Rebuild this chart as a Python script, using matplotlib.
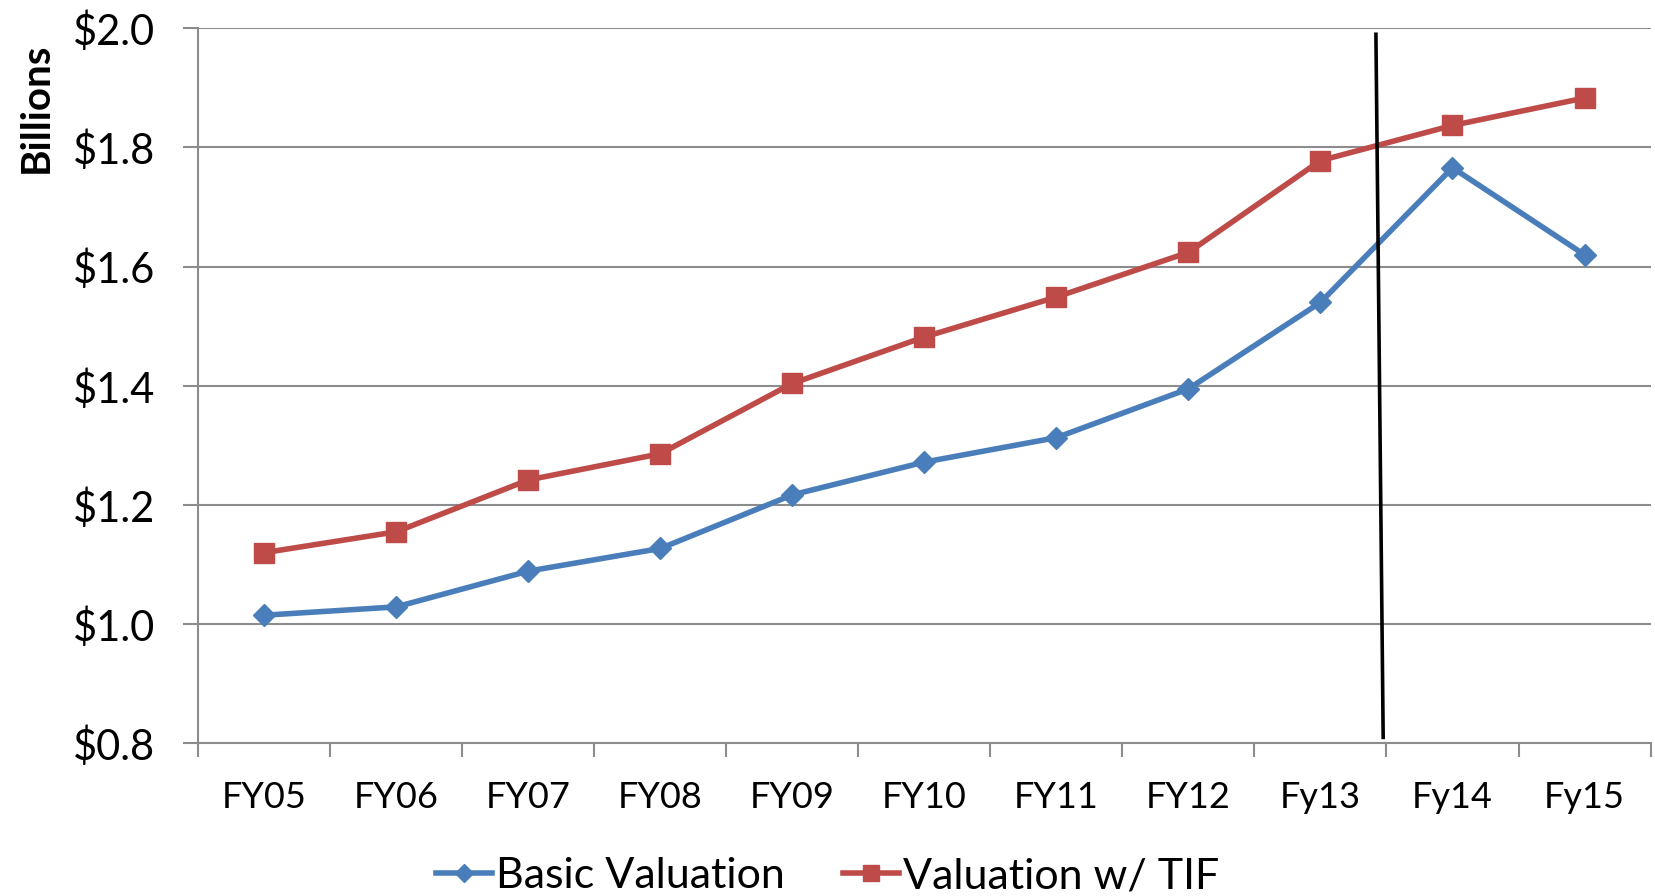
import matplotlib
matplotlib.use("Agg")
import matplotlib.pyplot as plt
from matplotlib.ticker import FixedLocator, NullFormatter, FuncFormatter

plt.rcParams['font.family'] = ['Lato', 'DejaVu Sans']

years = ["FY05", "FY06", "FY07", "FY08", "FY09", "FY10", "FY11", "FY12", "Fy13", "Fy14", "Fy15"]
basic_valuation = [1.015, 1.029, 1.089, 1.127, 1.217, 1.272, 1.313, 1.395, 1.540, 1.766, 1.620]
valuation_tif = [1.120, 1.155, 1.242, 1.286, 1.404, 1.482, 1.549, 1.624, 1.778, 1.837, 1.883]
y_ticks = [0.8, 1.0, 1.2, 1.4, 1.6, 1.8, 2.0]

# hand-drawn divider between Fy13 and Fy14
divider_x = [8.42, 8.475]
divider_y = [1.990, 0.810]

blue = "#4A7EBB"
red = "#BE4B48"
grid = "#8C8C8C"

fig = plt.figure(figsize=(16.56, 8.96), dpi=100)
ax = fig.add_axes([0.1197, 0.1704, 0.877, 0.798])

x = list(range(len(years)))
ax.plot(x, basic_valuation, color=blue, lw=4.0, marker="D", ms=11,
        mec=blue, mfc=blue, label="Basic Valuation", zorder=3)
ax.plot(x, valuation_tif, color=red, lw=4.0, marker="s", ms=14,
        mec=red, mfc=red, label="Valuation w/ TIF", zorder=3)
ax.plot(divider_x, divider_y, color="black", lw=2.6, zorder=4)

ax.set_xlim(-0.5, len(years) - 0.5)
ax.set_ylim(0.8, 2.0)
ax.set_yticks(y_ticks)
ax.yaxis.set_major_formatter(FuncFormatter(lambda v, p: f"${v:.1f}"))
ax.grid(axis="y", color=grid, lw=1.5)
ax.set_axisbelow(True)

# category boundaries carry tick marks, centres carry labels
ax.xaxis.set_major_locator(FixedLocator([i - 0.5 for i in range(len(years) + 1)]))
ax.xaxis.set_major_formatter(NullFormatter())
ax.xaxis.set_minor_locator(FixedLocator(x))
ax.set_xticklabels(years, minor=True)
ax.tick_params(axis="x", which="major", length=10, width=1.5, color=grid, direction="out")
ax.tick_params(axis="x", which="minor", length=0, pad=27, labelsize=26)
ax.tick_params(axis="y", length=11, width=1.5, color=grid, direction="out", pad=20, labelsize=30)

for side in ("top", "right"):
    ax.spines[side].set_visible(False)
for side in ("left", "bottom"):
    ax.spines[side].set_color(grid)
    ax.spines[side].set_linewidth(1.5)

ax.set_ylabel("Billions", fontsize=29, fontweight="bold")
ax.yaxis.set_label_coords(-0.099, 0.889)

fig.legend(loc="center", bbox_to_anchor=(0.4997, 0.022), ncol=2, frameon=False,
           fontsize=31, handlelength=1.3, handletextpad=0.1, columnspacing=1.35,
           borderpad=0, markerscale=0.8)

fig.savefig("out.png", dpi=100)
